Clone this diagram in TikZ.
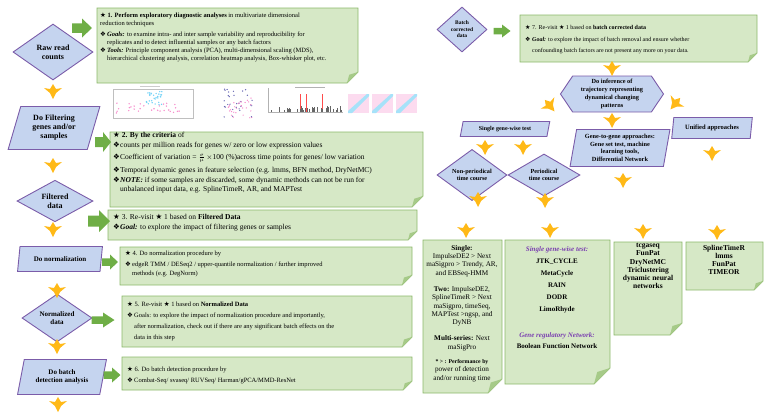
\documentclass[tikz,border=0pt]{standalone}
\usepackage{fontspec}
\setmainfont{Liberation Serif}
\newfontfamily\symfont{DejaVu Sans}
\usetikzlibrary{shapes.geometric,shapes.symbols}

\definecolor{notefill}{HTML}{D6E8C6}
\definecolor{noteline}{HTML}{8CB86A}
\definecolor{notefold}{HTML}{A6CA88}
\definecolor{stepfill}{HTML}{C5D4EF}
\definecolor{stepline}{HTML}{7B5CA9}
\definecolor{arrowgreen}{HTML}{6FAE46}
\definecolor{arrowgold}{HTML}{FFB917}
\definecolor{netpurple}{HTML}{7A3FB0}

\newcommand{\tstar}{{\symfont ★}}
\newcommand{\tbul}{\makebox[7pt][l]{\symfont ❖}}

% name, x1, y1, x2, y2, fold
\newcommand{\notebox}[6]{%
  \draw[notebox] (#2,#3) -- (#4,#3) -- (#4,#5-#6) -- (#4-#6,#5) -- (#2,#5) -- cycle;
  \fill[notefold] (#4,#5-#6) -- (#4-0.8*#6,#5-0.75*#6) -- (#4-#6,#5) -- cycle;
  \coordinate (#1) at (#2,#3);
}
% x, y, length, head width
\newcommand{\greenarrow}[4]{%
  \fill[arrowgreen, shift={(#1,#2)}] (-#3/2,-#4/4) -- (0,-#4/4) -- (0,-#4/2) -- (#3/2,0)
    -- (0,#4/2) -- (0,#4/4) -- (-#3/2,#4/4) -- cycle;
}
% x, y, rotation
\newcommand{\goldarrow}[3]{%
  \fill[arrowgold, shift={(#1,#2)}, rotate=#3] (-9,-4) -- (-3,-3) -- (0,-8) -- (3,-3)
    -- (9,-4) -- (3,1) -- (0,7) -- (-3,1) -- cycle;
}

\tikzset{
  notebox/.style={draw=noteline, fill=notefill, line width=0.8pt},
  notetext/.style={anchor=north west, inner sep=0pt, align=left},
  stepshape/.style={draw=stepline, fill=stepfill, line width=0.9pt, inner sep=0pt, align=center},
  stepdia/.style={stepshape, diamond},
  steppar/.style={stepshape, trapezium, trapezium left angle=72, trapezium right angle=108,
    trapezium stretches=true},
  stephex/.style={stepshape, signal, signal to=west and east, signal pointer angle=112},
  listtext/.style={anchor=north, inner sep=0pt, align=center},
}

\begin{document}
\begin{tikzpicture}[x=1pt, y=-1pt]
  \useasboundingbox (0,0) rectangle (767,416);

  % notes on the middle column
  \notebox{n1}{97}{8}{358}{83}{11}
  \notebox{n2}{110}{132}{423}{207}{11}
  \notebox{n3}{108}{210}{417}{240}{9}
  \notebox{n4}{120}{247}{412}{285}{10}
  \notebox{n5}{122}{296}{412}{347}{10}
  \notebox{n6}{122}{357}{412}{390}{9}
  \notebox{n7}{520}{15}{757}{62}{9}
  % result lists
  \notebox{nA}{423}{240}{502}{393}{14}
  \notebox{nB}{505}{240}{610}{384}{16}
  \notebox{nC}{614}{242}{682}{335}{12}
  \notebox{nD}{686}{242}{763}{290}{9}

  \node[notetext, font={\fontsize{6.5}{8}\selectfont}] (t1) at (100,12.5) {%
    \tstar{} \textbf{1. Perform exploratory diagnostic analyses} in multivariate dimensional\\
    reduction techniques\\[3pt]
    \tbul\textbf{\textit{Goals:}} to examine intra- and inter sample variability and reproducibility for\\
    \hspace*{7pt}replicates and to detect influential samples or any batch factors\\
    \tbul\textbf{\textit{Tools:}} Principle component analysis (PCA), multi-dimensional scaling (MDS),\\
    \hspace*{7pt}hierarchical clustering analysis, correlation heatmap analysis, Box-whisker plot, etc.};

  \node[notetext, font={\fontsize{7.5}{8.5}\selectfont}] (t2) at (113,132) {%
    \tstar{} \textbf{2. By the criteria} of\\[1.5pt]
    \tbul counts per million reads for genes w/ zero or low expression values\\[3pt]
    \tbul Coefficient of variation = $\frac{\sigma}{\mu}\,\times$100 (\%)across time points for genes/ low variation\\[4pt]
    \tbul Temporal dynamic genes in feature selection (e.g. lmms, BFN method, DryNetMC)\\[1.5pt]
    \tbul\textbf{\textit{NOTE:}} if some samples are discarded, some dynamic methods can not be run for\\
    \hspace*{7pt}unbalanced input data, e.g. SplineTimeR, AR, and MAPTest};

  \node[notetext, font={\fontsize{7.5}{10}\selectfont}] (t3) at (113,214) {%
    \tstar{} 3. Re-visit \tstar{} 1 based on \textbf{Filtered Data}\\
    \tbul\textbf{\textit{Goal:}} to explore the impact of filtering genes or samples};

  \node[notetext, font={\fontsize{6.5}{10}\selectfont}] (t4) at (125,251) {%
    \tstar{} 4. Do normalization procedure by\\[1pt]
    \tbul edgeR TMM / DESeq2 / upper-quantile normalization / further improved\\[-1pt]
    \hspace*{7pt}methods (e.g. DegNorm)};

  \node[notetext, font={\fontsize{6.5}{11}\selectfont}] (t5) at (127,302) {%
    \tstar{} 5. Re-visit \tstar{} 1 based on \textbf{Normalized Data}\\
    \tbul Goals: to explore the impact of normalization procedure and importantly,\\
    \hspace*{7pt}after normalization, check out if there are any significant batch effects on the\\
    \hspace*{7pt}data in this step};

  \node[notetext, font={\fontsize{6.5}{11}\selectfont}] (t6) at (127,366.5) {%
    \tstar{} 6. Do batch detection procedure by\\
    \tbul Combat-Seq/ svaseq/ RUVSeq/ Harman/gPCA/MMD-ResNet};

  \node[notetext, font={\fontsize{6}{11.5}\selectfont}] (t7) at (525,25) {%
    \tstar{} 7. Re-visit \tstar{} 1 based on \textbf{batch corrected data}\\
    \tbul\textbf{\textit{Goal:}} to explore the impact of batch removal and ensure whether\\
    \hspace*{7pt}confounding batch factors are not present any more on your data.};

  \node[listtext, font={\fontsize{7.2}{8.3}\selectfont}] (tA) at (462,245) {%
    \textbf{Single:}\\ ImpulseDE2 > Next\\ maSigpro > Trendy, AR,\\ and EBSeq-HMM\\[8pt]
    \textbf{Two:} ImpulseDE2,\\ SplineTimeR > Next\\ maSigpro, timeSeq,\\ MAPTest >ngsp, and\\ DyNB\\[8pt]
    \textbf{Multi-series:} Next\\ maSigPro\\[6pt]
    \fontsize{5.8}{7.5}\selectfont\bfseries * > : Performance by\\ power of detection\\ and/or running time};

  \node[listtext, font={\fontsize{7}{12}\selectfont\bfseries}] (tB) at (557,246) {%
    \textcolor{netpurple}{\textit{Single gene-wise test:}}\\ JTK\_CYCLE\\ MetaCycle\\ RAIN\\ DODR\\ LimoRhyde\\[14pt]
    \textcolor{netpurple}{\textit{Gene regulatory Network:}}\\[-1pt] Boolean Function Network};

  \node[listtext, font={\fontsize{7.5}{8.3}\selectfont\bfseries}] (tC) at (648,243) {%
    tcgaseq\\ FunPat\\ DryNetMC\\ Triclustering\\ dynamic neural\\ networks};

  \node[listtext, font={\fontsize{7.5}{8}\selectfont\bfseries}] (tD) at (724,245) {%
    SplineTimeR\\ lmms\\ FunPat\\ TIMEOR};

  % small plots under step 1
  \pgfmathsetseed{11}
  \fill[gray!40] (140,86) rectangle (160,87);
  \draw[gray!50, line width=0.3pt] (113,89) rectangle (193,118);
  \foreach \i in {1,...,30} {
    \fill[cyan!55] ({146+16*rnd},{91+14*rnd}) circle (0.8);
    \fill[magenta!45] ({116+74*rnd},{103+12*rnd}) circle (0.8);
  }
  \foreach \i in {1,...,30} {
    \fill[blue!50!black!60] ({224+30*rnd},{89+28*rnd}) circle (0.7);
    \fill[magenta!45] ({228+26*rnd},{98+20*rnd}) circle (0.7);
  }
  \draw[gray!60, line width=0.3pt] (268,88) -- (268,112) -- (343,112);
  \foreach \x in {300,306,322} \draw[red!70, line width=0.4pt] (\x,94) -- (\x,112);
  \foreach \i in {1,...,36} \draw[black!60, line width=0.3pt] ({270+72*rnd},112) -- ++(0,{-2-4*rnd});
  \draw[gray!60, line width=0.3pt] (295,87) -- (325,87);
  \foreach \x in {348,372,396} {
    \fill[magenta!14] (\x,94) rectangle ++(21,19);
    \fill[cyan!35] (\x,113) -- ++(4,0) -- ++(17,-17) -- ++(0,-2) -- ++(-2,0) -- ++(-19,17) -- cycle;
  }

  % left column steps
  \node[stepdia, minimum width=80, minimum height=56, font={\fontsize{8}{9}\selectfont\bfseries}]
    (raw) at (53,52) {Raw read\\counts};
  \node[steppar, minimum width=92, minimum height=43, font={\fontsize{8}{9}\selectfont\bfseries}]
    (filtgenes) at (54,128) {Do Filtering\\genes and/or\\samples};
  \node[stepdia, minimum width=76, minimum height=38, font={\fontsize{8}{9}\selectfont\bfseries}]
    (filtered) at (55,201) {Filtered\\data};
  \node[steppar, minimum width=85, minimum height=25, font={\fontsize{7}{8}\selectfont\bfseries}]
    (norm) at (60,259) {Do normalization};
  \node[stepdia, minimum width=70, minimum height=40, font={\fontsize{7}{8}\selectfont\bfseries}]
    (normed) at (57,318) {Normalized\\data};
  \node[steppar, minimum width=89, minimum height=35, font={\fontsize{7}{8}\selectfont\bfseries}]
    (batch) at (62,377) {Do batch\\detection analysis};

  % right part steps
  \node[stepdia, minimum width=50, minimum height=45, font={\fontsize{5.5}{6.5}\selectfont\bfseries}]
    (batchcorr) at (462,29.5) {Batch\\corrected\\data};
  \node[stephex, minimum width=103, minimum height=36, font={\fontsize{6.3}{8}\selectfont\bfseries}]
    (infer) at (612,94) {Do inference of\\trajectory representing\\dynamical changing\\patterns};
  \node[steppar, minimum width=90, minimum height=15, font={\fontsize{6}{7}\selectfont\bfseries}]
    (single) at (505,129) {Single gene-wise test};
  \node[steppar, trapezium left angle=76, trapezium right angle=104, minimum width=81,
    minimum height=21, font={\fontsize{6.5}{7.5}\selectfont\bfseries}]
    (unified) at (712,128) {Unified approaches};
  \node[steppar, trapezium left angle=79, trapezium right angle=101, minimum width=100,
    minimum height=37, font={\fontsize{6.3}{7.6}\selectfont\bfseries}]
    (genegene) at (620,148) {Gene-to-gene approaches:\\Gene set test, machine\\learning tools,\\Differential Network};
  \node[stepdia, minimum width=70, minimum height=35, font={\fontsize{6.2}{7.2}\selectfont\bfseries}]
    (nonper) at (472,175) {Non-periodical\\time course};
  \node[stepdia, minimum width=72, minimum height=36, font={\fontsize{6.2}{7.2}\selectfont\bfseries}]
    (per) at (544,175) {Periodical\\time course};

  % block arrows
  \foreach \x/\y/\l/\h in {82/28/20/19, 103/142/16/20, 99/221/22/22, 110/262/16/15,
      103/320/23/15, 112/375/17/15, 502/31/17/13}
    \greenarrow{\x}{\y}{\l}{\h};
  \foreach \x/\y/\r in {53/92/0, 53/166/0, 53/230/0, 57/291/0, 57/347/0, 58/405/0,
      612/69/0, 612/121/0, 485/148/0, 523/148/0, 478/200/0, 545/201/0,
      466/231/0, 550/231/0, 643/232/0, 717/233/0, 623/181/0, 712/154/0,
      550/106/40, 675/104/-40}
    \goldarrow{\x}{\y}{\r};
\end{tikzpicture}
\end{document}
